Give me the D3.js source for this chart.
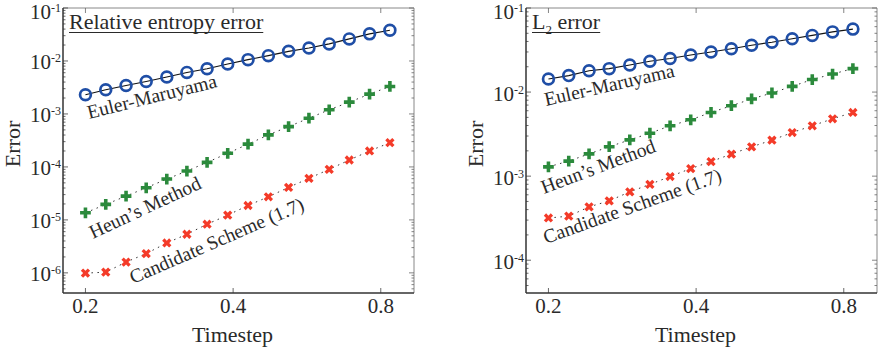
<!DOCTYPE html>
<html>
<head>
<meta charset="utf-8">
<script src="https://cdn.jsdelivr.net/npm/d3@7"></script>
<style>
  body { margin: 0; background: #fff; }
  svg { display: block; font-family: "Liberation Serif", "Times New Roman", serif; }
</style>
</head>
<body>
<div id="chart"></div>
<script>
// timestep values (same for both panels)
const timesteps = [0.2, 0.22, 0.242, 0.266, 0.293, 0.322, 0.354, 0.39, 0.429, 0.472, 0.519, 0.571, 0.628, 0.69, 0.759, 0.835];
const xTicks = [0.2, 0.4, 0.8];

// relative entropy error panel
const entEuler = [2.30e-3, 2.86e-3, 3.45e-3, 4.11e-3, 4.98e-3, 6.08e-3, 7.14e-3, 8.77e-3, 1.06e-2, 1.26e-2, 1.52e-2, 1.76e-2, 2.10e-2, 2.61e-2, 3.25e-2, 3.80e-2];
const entHeun = [1.36e-5, 1.96e-5, 2.81e-5, 4.04e-5, 5.90e-5, 8.36e-5, 1.22e-4, 1.81e-4, 2.69e-4, 4.02e-4, 5.77e-4, 8.32e-4, 1.20e-3, 1.67e-3, 2.37e-3, 3.30e-3];
const entCand = [9.9e-7, 1.03e-6, 1.60e-6, 2.31e-6, 3.67e-6, 5.36e-6, 8.29e-6, 1.23e-5, 1.87e-5, 2.73e-5, 4.11e-5, 6.08e-5, 9.01e-5, 1.35e-4, 2.00e-4, 2.87e-4];
const entTicks = [-1, -2, -3, -4, -5, -6];

// L2 error panel
const l2Euler = [1.43e-2, 1.57e-2, 1.79e-2, 1.90e-2, 2.10e-2, 2.33e-2, 2.51e-2, 2.76e-2, 3.00e-2, 3.28e-2, 3.61e-2, 3.92e-2, 4.31e-2, 4.72e-2, 5.20e-2, 5.61e-2];
const l2Heun = [1.29e-3, 1.51e-3, 1.84e-3, 2.24e-3, 2.70e-3, 3.24e-3, 3.97e-3, 4.68e-3, 5.72e-3, 6.88e-3, 8.28e-3, 9.76e-3, 1.17e-2, 1.41e-2, 1.64e-2, 1.90e-2];
const l2Cand = [3.18e-4, 3.34e-4, 4.31e-4, 5.08e-4, 6.51e-4, 7.98e-4, 9.89e-4, 1.23e-3, 1.49e-3, 1.83e-3, 2.23e-3, 2.68e-3, 3.30e-3, 3.97e-3, 4.81e-3, 5.72e-3];
const l2Ticks = [-1, -2, -3, -4];

const W = 886, H = 352;
const svg = d3.select('#chart').append('svg')
  .attr('width', W).attr('height', H);
svg.append('rect').attr('width', W).attr('height', H).attr('fill', '#fff');

const BLUE = '#1f4ea6', GREEN = '#2b8a3c', RED = '#f43b29', INK = '#2a2a2a';

function drawPanel(p) {
  const x = d3.scaleLog().domain([0.18, 0.935]).range([p.left, p.right]);
  const y = d3.scaleLog().domain(p.yDomain).range([293, 8]);
  const g = svg.append('g');

  // frame: top/right lighter
  g.append('line').attr('x1', p.left).attr('x2', p.right).attr('y1', 8).attr('y2', 8)
    .attr('stroke', '#888').attr('stroke-width', 1);
  g.append('line').attr('x1', p.right).attr('x2', p.right).attr('y1', 8).attr('y2', 293)
    .attr('stroke', '#888').attr('stroke-width', 1);

  // y ticks (major + minor), inward on both sides
  const lo = Math.floor(Math.log10(p.yDomain[0])), hi = Math.ceil(Math.log10(p.yDomain[1]));
  for (let e = lo; e <= hi; e++) {
    for (let m = 1; m < 10; m++) {
      const v = m * Math.pow(10, e);
      if (v < p.yDomain[0] || v > p.yDomain[1] * 1.0001) continue;
      const len = m === 1 ? 5 : 2.5;
      const yy = y(v);
      g.append('line').attr('x1', p.left).attr('x2', p.left + len).attr('y1', yy).attr('y2', yy)
        .attr('stroke', '#444').attr('stroke-width', 0.8);
      g.append('line').attr('x1', p.right).attr('x2', p.right - len).attr('y1', yy).attr('y2', yy)
        .attr('stroke', '#666').attr('stroke-width', 0.8);
    }
  }
  // y tick labels (top one kept inside the page)
  p.yTicks.forEach(e => {
    const t = g.append('text')
      .attr('x', p.left - 2).attr('y', Math.max(y(Math.pow(10, e)) + 8.5, 19))
      .attr('text-anchor', 'end').attr('font-size', 21).attr('fill', INK);
    t.append('tspan').text('10');
    t.append('tspan').attr('dy', -7).attr('font-size', 12).text(String(e));
  });

  // x ticks
  xTicks.forEach(v => {
    const xx = x(v);
    g.append('line').attr('x1', xx).attr('x2', xx).attr('y1', 293).attr('y2', 288)
      .attr('stroke', '#444').attr('stroke-width', 0.8);
    g.append('line').attr('x1', xx).attr('x2', xx).attr('y1', 8).attr('y2', 13)
      .attr('stroke', '#666').attr('stroke-width', 0.8);
    g.append('text').attr('x', xx).attr('y', 313).attr('text-anchor', 'middle')
      .attr('font-size', 21).attr('fill', INK).text(v.toFixed(1));
  });

  // main axes
  g.append('line').attr('x1', p.left).attr('x2', p.left).attr('y1', 8).attr('y2', 293)
    .attr('stroke', '#333').attr('stroke-width', 1.5);
  g.append('line').attr('x1', p.left).attr('x2', p.right).attr('y1', 293).attr('y2', 293)
    .attr('stroke', '#333').attr('stroke-width', 1.5);

  // axis labels
  g.append('text').attr('transform', `translate(${p.left - 43},144) rotate(-90)`)
    .attr('text-anchor', 'middle').attr('font-size', 22).attr('fill', INK).text('Error');
  g.append('text').attr('x', (p.left + p.right) / 2 - 6).attr('y', 342)
    .attr('text-anchor', 'middle').attr('font-size', 22).attr('fill', INK).text('Timestep');

  const line = d3.line().x(d => x(d[0])).y(d => y(d[1]));
  const pts = arr => timesteps.map((t, i) => [t, arr[i]]);

  // dotted guide lines for Heun and candidate
  [p.heun, p.cand].forEach(arr => {
    g.append('path').attr('d', line(pts(arr))).attr('fill', 'none')
      .attr('stroke', '#333').attr('stroke-width', 1).attr('stroke-dasharray', '1.5,4.5');
  });

  // Euler: solid line with open circles
  g.append('path').attr('d', line(pts(p.euler))).attr('fill', 'none')
    .attr('stroke', '#111').attr('stroke-width', 1.1);
  g.selectAll('circle.eu').data(pts(p.euler)).enter().append('circle')
    .attr('cx', d => x(d[0])).attr('cy', d => y(d[1])).attr('r', 5.4)
    .attr('fill', 'none').attr('stroke', BLUE).attr('stroke-width', 2.7);

  const cross = d3.symbol().type(d3.symbolCross).size(64);
  g.selectAll('path.heun').data(pts(p.heun)).enter().append('path')
    .attr('d', cross).attr('fill', GREEN)
    .attr('transform', d => `translate(${x(d[0])},${y(d[1])})`);
  const xs = d3.symbol().type(d3.symbolCross).size(54);
  g.selectAll('path.cand').data(pts(p.cand)).enter().append('path')
    .attr('d', xs).attr('fill', RED)
    .attr('transform', d => `translate(${x(d[0])},${y(d[1])}) rotate(45)`);

  // title, underlined
  const title = g.append('text').attr('x', p.left + 6).attr('y', 29)
    .attr('font-size', 22).attr('fill', INK);
  if (p.sub) {
    title.append('tspan').text('L');
    title.append('tspan').attr('dy', 5).attr('font-size', 13).text('2');
    title.append('tspan').attr('dy', -5).text(' error');
  } else {
    title.text(p.title);
  }
  const tw = title.node().getComputedTextLength();
  g.append('line').attr('x1', p.left + 6).attr('x2', p.left + 6 + tw)
    .attr('y1', 32.5).attr('y2', 32.5).attr('stroke', INK).attr('stroke-width', 1.1);

  // rotated method labels
  p.labels.forEach(l => {
    g.append('text').attr('transform', `translate(${l.x},${l.y}) rotate(${l.a})`)
      .attr('font-size', 19.5).attr('fill', INK).text(l.t);
  });
}

drawPanel({
  left: 63, right: 414, yDomain: [Math.pow(10, -6.38), 0.1], yTicks: entTicks,
  euler: entEuler, heun: entHeun, cand: entCand, title: 'Relative entropy error',
  labels: [
    { t: 'Euler-Maruyama', x: 89, y: 119, a: -14 },
    { t: 'Heun\u2019s Method', x: 93, y: 239, a: -25 },
    { t: 'Candidate Scheme (1.7)', x: 133, y: 284, a: -23.4 }
  ]
});
drawPanel({
  left: 526, right: 877, yDomain: [Math.pow(10, -4.39), 0.1], yTicks: l2Ticks,
  euler: l2Euler, heun: l2Heun, cand: l2Cand, sub: true,
  labels: [
    { t: 'Euler-Maruyama', x: 546, y: 106, a: -12.8 },
    { t: 'Heun\u2019s Method', x: 544, y: 194, a: -20.7 },
    { t: 'Candidate Scheme (1.7)', x: 546, y: 244, a: -19.7 }
  ]
});
</script>
</body>
</html>
